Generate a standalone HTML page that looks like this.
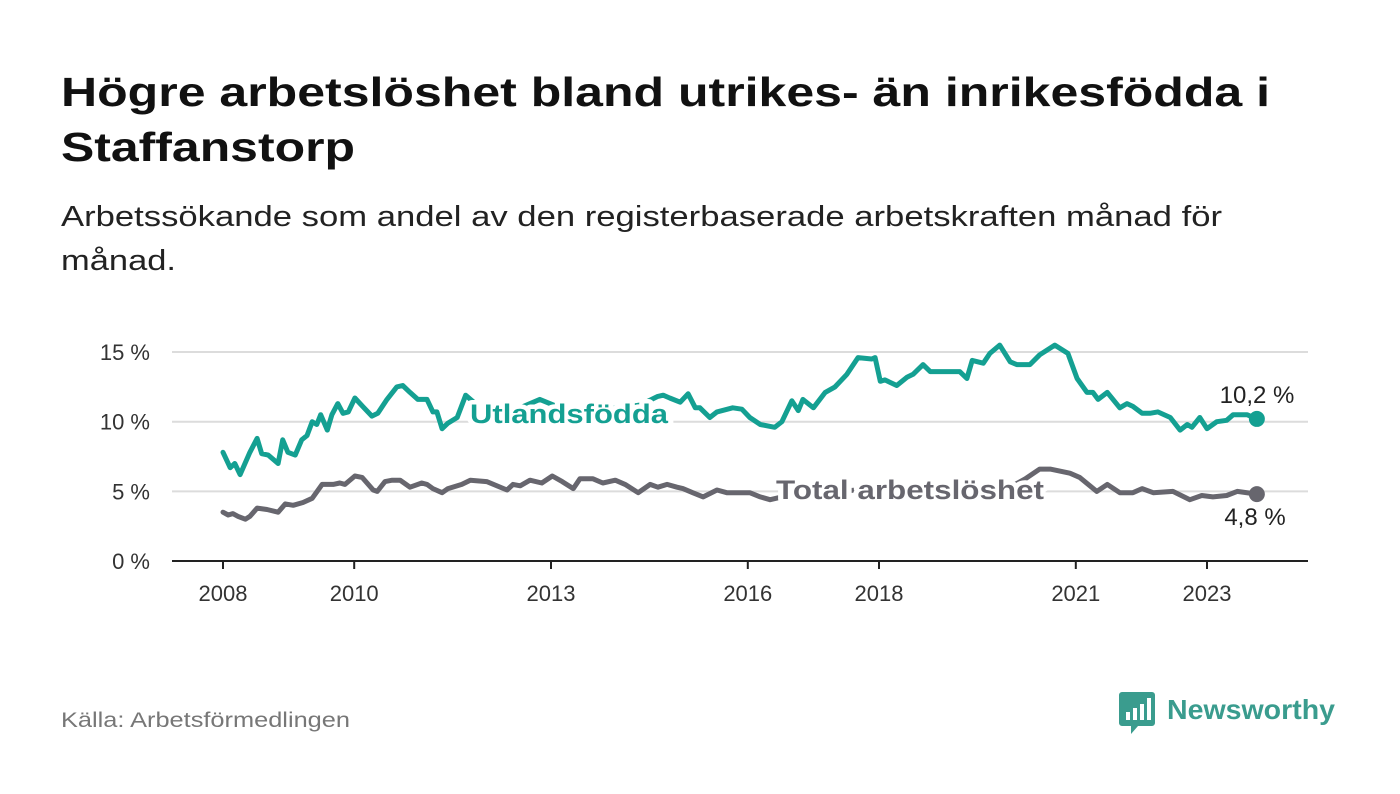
<!DOCTYPE html>
<html><head><meta charset="utf-8"><style>
html,body{margin:0;padding:0;background:#fff;}
svg{display:block;font-family:"Liberation Sans",sans-serif;}
</style></head><body>
<svg id="chart" width="1400" height="794" viewBox="0 0 1400 794" xmlns="http://www.w3.org/2000/svg">
<text x="61" y="106" font-size="41" font-weight="bold" fill="#111" textLength="1209" lengthAdjust="spacingAndGlyphs">Högre arbetslöshet bland utrikes- än inrikesfödda i</text>
<text x="61" y="161" font-size="41" font-weight="bold" fill="#111" textLength="294" lengthAdjust="spacingAndGlyphs">Staffanstorp</text>
<text x="61" y="226" font-size="29" fill="#222" textLength="1161" lengthAdjust="spacingAndGlyphs">Arbetssökande som andel av den registerbaserade arbetskraften månad för</text>
<text x="61" y="270" font-size="29" fill="#222" textLength="115" lengthAdjust="spacingAndGlyphs">månad.</text>
<g id="grid"></g>
<g id="series"></g>
<g id="labels"></g>
<text x="61" y="727" font-size="21" fill="#777" textLength="289" lengthAdjust="spacingAndGlyphs">Källa: Arbetsförmedlingen</text>
<g>
<path d="M1122 692 h30 a3 3 0 0 1 3 3 v28 a3 3 0 0 1 -3 3 h-14 l-7 8 v-8 h-9 a3 3 0 0 1 -3 -3 v-28 a3 3 0 0 1 3 -3z" fill="#3a9c8e"/>
<rect x="1126" y="712" width="4" height="8" fill="#fff"/><rect x="1133" y="708" width="4" height="12" fill="#fff"/><rect x="1140" y="704" width="4" height="16" fill="#fff"/><rect x="1147" y="698" width="4" height="22" fill="#fff"/>
<text x="1167" y="719" font-size="28" font-weight="bold" fill="#3a9c8e" textLength="168" lengthAdjust="spacingAndGlyphs">Newsworthy</text>
</g>
</svg>
<script>
// years since 2008 and values (%)
const tUtl = [0,0.11,0.18,0.26,0.41,0.52,0.59,0.69,0.84,0.91,0.99,1.10,1.20,1.28,1.36,1.43,1.49,1.59,1.66,1.75,1.83,1.91,2.01,2.13,2.27,2.36,2.50,2.65,2.74,2.85,2.97,3.11,3.20,3.26,3.34,3.43,3.57,3.70,3.92,4.22,4.53,4.83,5.14,5.44,5.75,6.05,6.36,6.62,6.71,6.81,6.97,7.09,7.20,7.27,7.42,7.53,7.77,7.91,8.03,8.19,8.41,8.52,8.67,8.77,8.84,9.00,9.18,9.33,9.51,9.68,9.89,9.94,10.02,10.09,10.27,10.43,10.52,10.67,10.78,11.04,11.23,11.34,11.42,11.59,11.69,11.84,12.00,12.10,12.30,12.45,12.68,12.88,13.02,13.17,13.26,13.34,13.48,13.67,13.78,13.87,14.01,14.13,14.25,14.44,14.59,14.70,14.77,14.89,15.00,15.15,15.30,15.40,15.61,15.76];
const vUtl = [7.8,6.7,7.0,6.2,7.8,8.8,7.7,7.6,7.0,8.7,7.8,7.6,8.7,9.0,10.0,9.8,10.5,9.4,10.5,11.3,10.6,10.7,11.7,11.1,10.4,10.6,11.6,12.5,12.6,12.1,11.6,11.6,10.7,10.7,9.5,9.9,10.3,11.9,11.0,10.9,11.0,11.6,11.0,10.9,10.9,11.0,11.2,11.8,11.9,11.7,11.4,12.0,11.0,11.0,10.3,10.7,11.0,10.9,10.3,9.8,9.6,10.0,11.5,10.8,11.6,11.0,12.1,12.5,13.4,14.6,14.5,14.6,12.9,13.0,12.6,13.2,13.4,14.1,13.6,13.6,13.6,13.1,14.4,14.2,14.9,15.5,14.3,14.1,14.1,14.8,15.5,14.9,13.1,12.1,12.1,11.6,12.1,11.0,11.3,11.1,10.6,10.6,10.7,10.3,9.4,9.8,9.6,10.3,9.5,10.0,10.1,10.5,10.5,10.2];
const tTot = [0,0.08,0.15,0.23,0.34,0.41,0.52,0.67,0.84,0.95,1.07,1.22,1.36,1.51,1.68,1.78,1.86,2.01,2.12,2.29,2.35,2.47,2.58,2.70,2.85,3.03,3.11,3.20,3.34,3.43,3.64,3.77,4.02,4.33,4.42,4.53,4.68,4.86,5.02,5.17,5.34,5.44,5.64,5.79,5.98,6.13,6.33,6.51,6.63,6.77,6.92,7.01,7.16,7.32,7.53,7.68,7.88,8.03,8.19,8.34,8.80,9.25,9.71,10.17,10.63,11.08,11.54,12.00,12.23,12.45,12.61,12.91,13.06,13.32,13.48,13.67,13.87,14.01,14.18,14.48,14.74,14.92,15.09,15.30,15.46,15.76];
const vTot = [3.5,3.3,3.4,3.2,3.0,3.2,3.8,3.7,3.5,4.1,4.0,4.2,4.5,5.5,5.5,5.6,5.5,6.1,6.0,5.1,5.0,5.7,5.8,5.8,5.3,5.6,5.5,5.2,4.9,5.2,5.5,5.8,5.7,5.1,5.5,5.4,5.8,5.6,6.1,5.7,5.2,5.9,5.9,5.6,5.8,5.5,4.9,5.5,5.3,5.5,5.3,5.2,4.9,4.6,5.1,4.9,4.9,4.9,4.6,4.4,4.9,5.0,5.1,5.1,5.2,5.1,5.2,5.3,5.9,6.6,6.6,6.3,6.0,5.0,5.5,4.9,4.9,5.2,4.9,5.0,4.4,4.7,4.6,4.7,5.0,4.8];
const yTicks = [0,5,10,15];
const yTickLabels = ["0 %","5 %","10 %","15 %"];
const xTicks = [2008,2010,2013,2016,2018,2021,2023];
const seriesNames = ["Utlandsfödda","Total arbetslöshet"];

const NS = "http://www.w3.org/2000/svg";
const X = yr => 223 + (yr - 2008) * 65.6;
const Y = v => 561 - v * 13.93;
function mk(tag, attrs, parent){const e=document.createElementNS(NS,tag);for(const k in attrs)e.setAttribute(k,attrs[k]);parent.appendChild(e);return e;}
const grid = document.getElementById('grid'), ser = document.getElementById('series'), lab = document.getElementById('labels');

yTicks.forEach((v,i)=>{
  if(v>0){const g=mk('line',{x1:172,x2:1308,y1:Y(v),y2:Y(v),stroke:'#dcdcdc','stroke-width':2},grid);
  
  }
  const t=mk('text',{x:150,y:Y(v)+8,'text-anchor':'end','font-size':22,fill:'#333'},grid);
  t.textContent=yTickLabels[i];
  
  
});
const ax=mk('line',{x1:172,x2:1308,y1:561,y2:561,stroke:'#222','stroke-width':2},grid);


xTicks.forEach(yr=>{
  const tk=mk('line',{x1:X(yr),x2:X(yr),y1:561,y2:569,stroke:'#222','stroke-width':2},grid);
  
  
  const t=mk('text',{x:X(yr),y:601,'text-anchor':'middle','font-size':22,fill:'#333'},grid);
  t.textContent=yr;
  
  
});
function line(ts,vs,color,name){
  const d=ts.map((t,i)=>(i?'L':'M')+X(2008+t).toFixed(1)+' '+Y(vs[i]).toFixed(1)).join(' ');
  const p=mk('path',{d:d,fill:'none',stroke:color,'stroke-width':5,'stroke-linejoin':'round','stroke-linecap':'round'},ser);
  
  
  const n=ts.length-1;
  const c=mk('circle',{cx:X(2008+ts[n]),cy:Y(vs[n]),r:8,fill:color},ser);
  
  
}
line(tUtl,vUtl,'#14a092','utlandsfodda');
line(tTot,vTot,'#67666e','total');

const l1=mk('text',{x:470,y:423,'font-size':27,'font-weight':'bold',fill:'#14a092',stroke:'#fff','stroke-width':9,'paint-order':'stroke','stroke-linejoin':'round',textLength:198,lengthAdjust:'spacingAndGlyphs'},lab);
l1.textContent=seriesNames[0];


const l2=mk('text',{x:776,y:499,'font-size':27,'font-weight':'bold',fill:'#67666e',stroke:'#fff','stroke-width':9,'paint-order':'stroke','stroke-linejoin':'round',textLength:268,lengthAdjust:'spacingAndGlyphs'},lab);
l2.textContent=seriesNames[1];


const e1=mk('text',{x:1257,y:403,'text-anchor':'middle','font-size':24,fill:'#222'},lab);
e1.textContent=vUtl[vUtl.length-1].toFixed(1).replace('.',',')+' %';


const e2=mk('text',{x:1255,y:525,'text-anchor':'middle','font-size':24,fill:'#222'},lab);
e2.textContent=vTot[vTot.length-1].toFixed(1).replace('.',',')+' %';


</script>
</body></html>
